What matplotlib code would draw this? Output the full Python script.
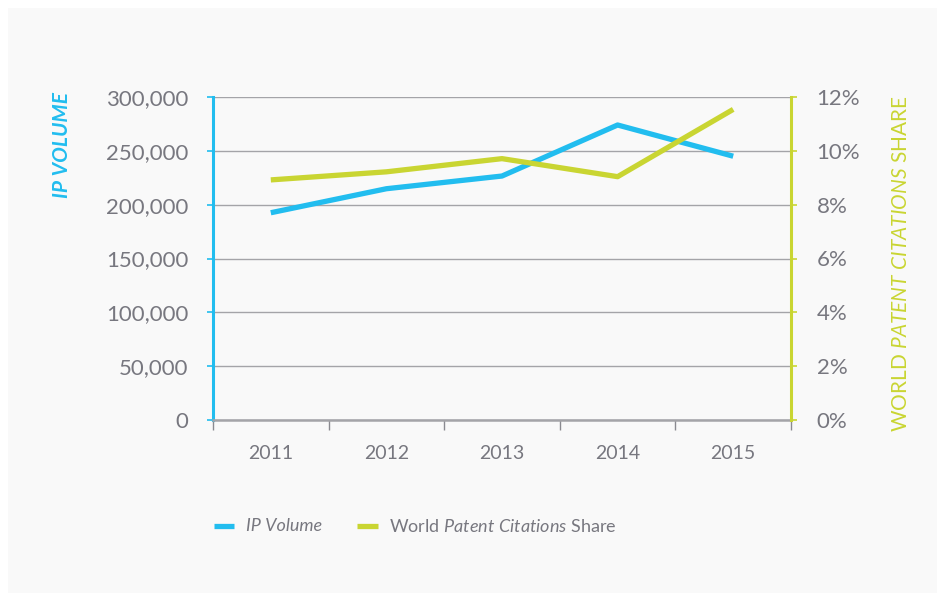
import matplotlib
matplotlib.use("Agg")
import matplotlib.pyplot as plt
from matplotlib.patches import Rectangle
from matplotlib.lines import Line2D
from matplotlib.ticker import FuncFormatter, FixedLocator

years = ["2011", "2012", "2013", "2014", "2015"]
ip_volume = [192500, 214800, 226600, 274000, 245000]
citation_share = [8.92, 9.22, 9.71, 9.04, 11.54]
left_ticks = [0, 50000, 100000, 150000, 200000, 250000, 300000]
right_ticks = [0, 2, 4, 6, 8, 10, 12]

BLUE = "#22bdef"
GREEN = "#c9d532"
TXT = "#77777f"
GRID = "#a4a4a8"

plt.rcParams["font.family"] = ["Lato", "DejaVu Sans"]
plt.rcParams["mathtext.fontset"] = "custom"
plt.rcParams["mathtext.rm"] = "Lato"
plt.rcParams["mathtext.it"] = "Lato:italic"
plt.rcParams["mathtext.bf"] = "Lato:bold"

W, H = 945, 601
fig = plt.figure(figsize=(W / 100, H / 100), dpi=100, facecolor="white")
fig.patches.append(Rectangle((8 / W, 8 / H), (937 - 8) / W, (593 - 8) / H,
                             transform=fig.transFigure, facecolor="#f9f9f9",
                             edgecolor="none", zorder=-10))

ax = fig.add_axes([213 / W, 1 - 420 / H, (791 - 213) / W, (420 - 97) / H])
ax.set_facecolor("none")
ax2 = ax.twinx()

x = list(range(len(years)))
ax.plot(x, ip_volume, color=BLUE, lw=3.8, solid_capstyle="butt", zorder=3)
ax2.plot(x, citation_share, color=GREEN, lw=3.8, solid_capstyle="butt", zorder=3)

ax.set_xlim(-0.5, len(years) - 0.5)
ax.set_ylim(0, 300000)
ax2.set_ylim(0, 12)

ax.yaxis.set_major_locator(FixedLocator(left_ticks))
ax.yaxis.set_major_formatter(FuncFormatter(lambda v, p: f"{int(v):,}"))
ax2.yaxis.set_major_locator(FixedLocator(right_ticks))
ax2.yaxis.set_major_formatter(FuncFormatter(lambda v, p: f"{int(v)}%"))

ax.set_xticks([i - 0.5 for i in range(len(years) + 1)])
ax.set_xticklabels([])
ax.set_xticks(x, minor=True)
ax.set_xticklabels(years, minor=True)
ax.tick_params(axis="x", which="major", direction="out", length=7, width=1, color="#8a8a90")
ax.tick_params(axis="x", which="minor", length=0, pad=18, labelsize=14, labelcolor=TXT)

ax.tick_params(axis="y", direction="out", length=4.5, width=1.2, color=BLUE,
               pad=13, labelsize=16, labelcolor=TXT)
ax2.tick_params(axis="y", direction="out", length=4.5, width=1.2, color=GREEN,
                pad=14, labelsize=16, labelcolor=TXT)

ax.grid(axis="y", color=GRID, lw=1)
ax.set_axisbelow(True)

for a in (ax, ax2):
    a.spines["top"].set_visible(False)
ax.spines["left"].set_color(BLUE)
ax.spines["left"].set_linewidth(2.2)
ax.spines["right"].set_visible(False)
ax.spines["bottom"].set_color(GRID)
ax.spines["bottom"].set_linewidth(1.8)
ax2.spines["left"].set_visible(False)
ax2.spines["bottom"].set_visible(False)
ax2.spines["right"].set_color(GREEN)
ax2.spines["right"].set_linewidth(2.2)

# axis titles
fig.text(62 / W, 1 - 92 / H, "IP VOLUME", rotation=90, ha="center", va="top",
         color=BLUE, fontsize=15, fontstyle="italic", fontweight="bold")
fig.text(901 / W, 1 - 432 / H, r"WORLD $\mathit{PATENT\ CITATIONS}$ SHARE",
         rotation=90, ha="center", va="bottom", color=GREEN, fontsize=15)

# legend
ly = 1 - 526 / H
fig.add_artist(Line2D([214 / W, 234 / W], [ly, ly], color=BLUE, lw=3.8,
                      solid_capstyle="butt", transform=fig.transFigure))
fig.text(246 / W, ly, "IP Volume", ha="left", va="center", color=TXT,
         fontsize=13, fontstyle="italic")
fig.add_artist(Line2D([357 / W, 378 / W], [ly, ly], color=GREEN, lw=3.8,
                      solid_capstyle="butt", transform=fig.transFigure))
fig.text(389 / W, ly, r"World $\mathit{Patent\ Citations}$ Share", ha="left",
         va="center", color=TXT, fontsize=13)

fig.savefig("out.png", dpi=100, facecolor="white")
